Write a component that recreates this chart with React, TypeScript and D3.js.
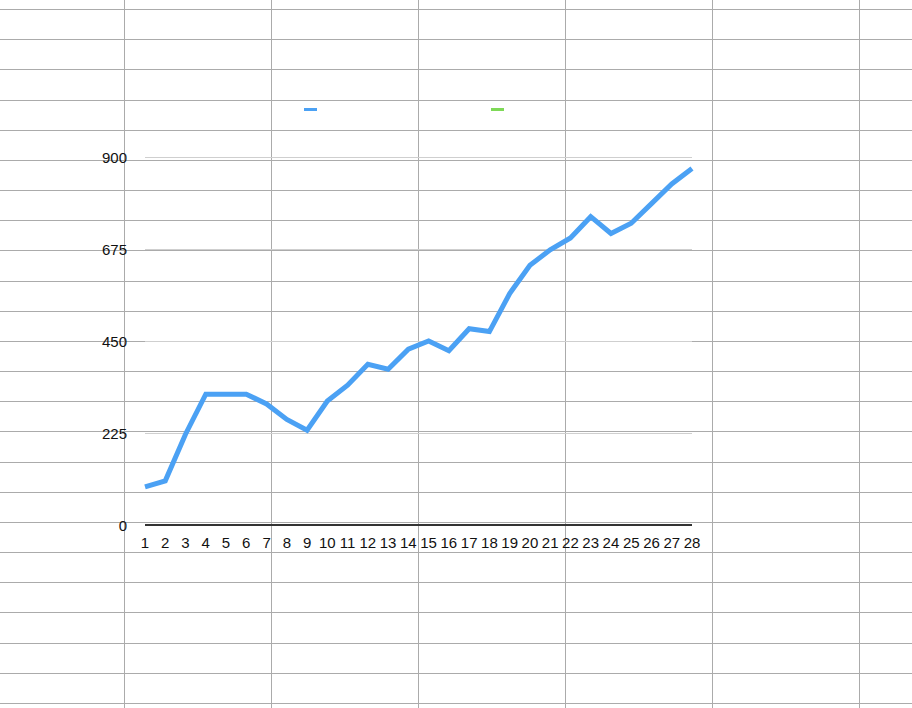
import { useEffect, useRef } from 'react'
import * as d3 from 'd3'

// Day numbers along the bottom axis
const days = d3.range(1, 29)

// Values
const values = [
  93, 108, 222, 320, 320, 320, 296, 258, 232, 303,
  342, 393, 381, 430, 450, 426, 480, 473, 566, 635,
  673, 702, 754, 713, 738, 786, 834, 872,
]

const yTicks = [0, 225, 450, 675, 900]

// Legend swatches (no label text shown)
const legendItems = [
  { color: '#4ba1f4', x: 304 },
  { color: '#7ed957', x: 491 },
]

export default function App() {
  const svgRef = useRef<SVGSVGElement>(null)

  useEffect(() => {
    if (!svgRef.current) return
    const svg = d3.select(svgRef.current)
    svg.selectAll('*').remove()

    const W = 912
    const H = 708

    svg.append('rect').attr('width', W).attr('height', H).attr('fill', '#fff')

    // Spreadsheet background grid
    const bg = svg.append('g').attr('shape-rendering', 'crispEdges')
    d3.range(24).forEach(i => {
      const y = Math.round(9 + i * 30.17) + 0.5
      bg.append('line')
        .attr('x1', 0).attr('x2', W)
        .attr('y1', y).attr('y2', y)
        .attr('stroke', '#ababab')
        .attr('stroke-width', 1)
    })
    d3.range(6).forEach(i => {
      const x = Math.round(124 + i * 147) + 0.5
      bg.append('line')
        .attr('x1', x).attr('x2', x)
        .attr('y1', 0).attr('y2', H)
        .attr('stroke', '#ababab')
        .attr('stroke-width', 1)
    })

    // Scales
    const x = d3.scaleLinear().domain([1, 28]).range([145, 692])
    const y = d3.scaleLinear().domain([0, 900]).range([525, 157])

    // Chart gridlines
    svg.append('g')
      .selectAll('line')
      .data(yTicks.filter(d => d > 0))
      .join('line')
      .attr('x1', 145).attr('x2', 692)
      .attr('y1', d => Math.round(y(d)) + 0.5)
      .attr('y2', d => Math.round(y(d)) + 0.5)
      .attr('stroke', '#cfcfcf')
      .attr('stroke-width', 1)

    // Y labels
    svg.append('g')
      .selectAll('text')
      .data(yTicks)
      .join('text')
      .attr('x', 127)
      .attr('y', d => y(d) + 6)
      .attr('text-anchor', 'end')
      .style('font-family', '"Liberation Sans", Arial, sans-serif')
      .style('font-size', '15px')
      .style('fill', '#111')
      .text(d => d)

    // X axis line
    svg.append('line')
      .attr('x1', 145).attr('x2', 692)
      .attr('y1', y(0)).attr('y2', y(0))
      .attr('stroke', '#333')
      .attr('stroke-width', 2)

    // X labels
    svg.append('g')
      .selectAll('text')
      .data(days)
      .join('text')
      .attr('x', d => x(d))
      .attr('y', 548)
      .attr('text-anchor', 'middle')
      .style('font-family', '"Liberation Sans", Arial, sans-serif')
      .style('font-size', '15px')
      .style('fill', '#111')
      .text(d => d)

    // Line
    const line = d3.line<number>()
      .x((_, i) => x(days[i]))
      .y(d => y(d))

    svg.append('path')
      .datum(values)
      .attr('fill', 'none')
      .attr('stroke', '#4ba1f4')
      .attr('stroke-width', 5)
      .attr('stroke-linejoin', 'miter')
      .attr('d', line)

    // Legend
    legendItems.forEach(item => {
      svg.append('rect')
        .attr('x', item.x)
        .attr('y', 108)
        .attr('width', 13)
        .attr('height', 3)
        .attr('fill', item.color)
    })
  }, [])

  return (
    <div style={{ position: 'fixed', left: 0, top: 0 }}>
      <svg ref={svgRef} width={912} height={708} style={{ display: 'block' }} />
    </div>
  )
}
